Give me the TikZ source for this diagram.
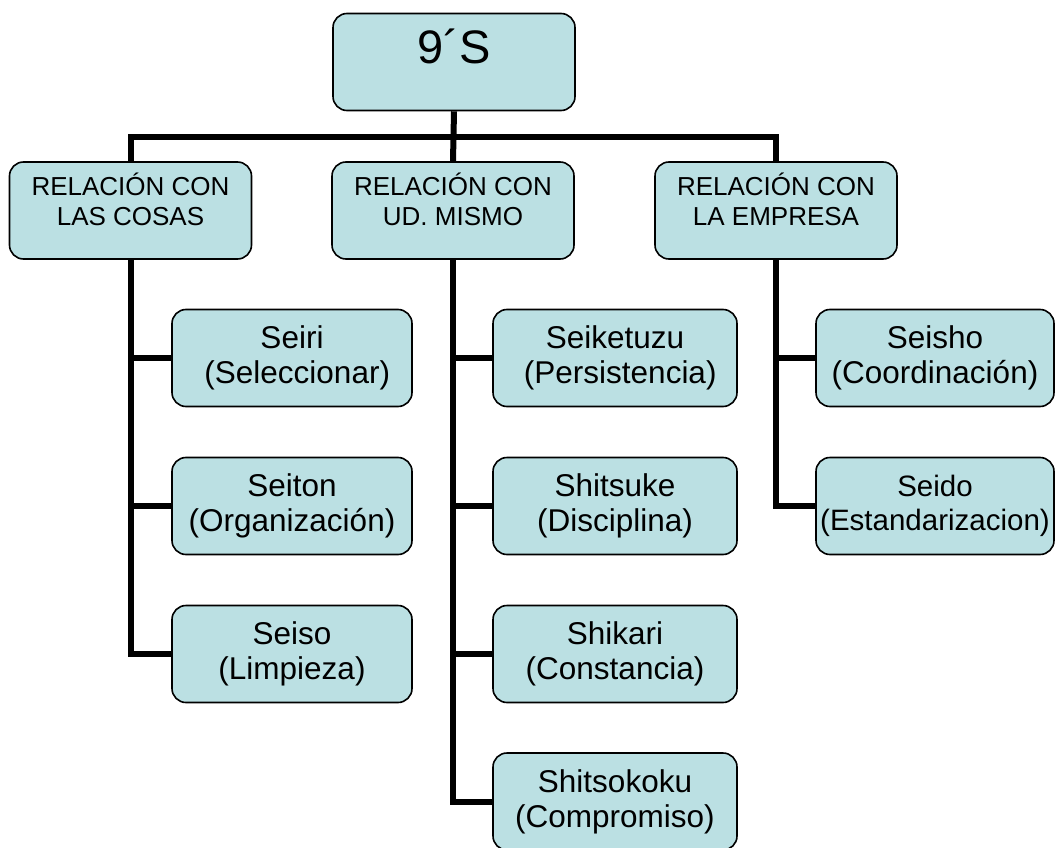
\documentclass[tikz,border=0pt]{standalone}
\usepackage{fontspec}
\setmainfont{Liberation Sans}
\usetikzlibrary{calc}
\definecolor{boxfill}{RGB}{187,224,227}
\tikzset{
  box/.style={draw=black, line width=1.6pt, fill=boxfill, rounded corners=14pt,
    minimum width=242pt, minimum height=97pt, inner sep=0pt, align=center,
    font=\fontsize{31.5}{35}\selectfont},
  hdrtxt/.style={align=center, inner sep=0pt, anchor=north, font=\fontsize{26}{30}\selectfont},
  conn/.style={line width=6pt},
}
\begin{document}
\begin{tikzpicture}[x=1pt,y=-1pt]
\useasboundingbox (0,0) rectangle (1055,848);
% top
\node[box] (top) at (454,62) {};
\node[font=\fontsize{47}{50}\selectfont, inner sep=0pt, anchor=base] (toptxt) at (454,64) {9´S};
% level 1
\node[box] (L) at (130.5,210.5) {};
\node[box] (M) at (453,210.5) {};
\node[box] (R) at (776,210.5) {};
\node[hdrtxt] (Lt) at (130.5,173) {RELACIÓN CON\\LAS COSAS};
\node[hdrtxt] (Mt) at (453,173) {RELACIÓN CON\\UD. MISMO};
\node[hdrtxt] (Rt) at (776,173) {RELACIÓN CON\\LA EMPRESA};
% level 2 left
\node[box, minimum width=240pt] (s1) at (292,358) {Seiri\\\hphantom{(}\kern-\fontdimen2\font\ (Seleccionar)};
\node[box, minimum width=240pt] (s2) at (292,506) {Seiton\\(Organización)};
\node[box, minimum width=240pt] (s3) at (292,654) {Seiso\\(Limpieza)};
% level 2 middle
\node[box, minimum width=244pt] (m1) at (615,358) {Seiketuzu\\\hphantom{(}\kern-\fontdimen2\font\ (Persistencia)};
\node[box, minimum width=244pt] (m2) at (615,506) {Shitsuke\\(Disciplina)};
\node[box, minimum width=244pt] (m3) at (615,654) {Shikari\\(Constancia)};
\node[box, minimum width=244pt] (m4) at (615,801.5) {Shitsokoku\\(Compromiso)};
% level 2 right
\node[box, minimum width=238pt] (r1) at (935,358) {Seisho\\(Coordinación)};
\node[box, minimum width=238pt, font=\fontsize{29.5}{34}\selectfont] (r2) at (935,506) {Seido\\(Estandarizacion)};
% connectors
\coordinate (bus) at (454,137);
\draw[conn] (top.south) -- (M.north);
\draw[conn] (L.north) -- (L.north |- bus) -- (R.north |- bus) -- (R.north);
\draw[conn] (L.south) |- (s3.west);
\draw[conn] (L.south |- s1.west) -- (s1.west);
\draw[conn] (L.south |- s2.west) -- (s2.west);
\draw[conn] (M.south) |- (m4.west);
\draw[conn] (M.south |- m1.west) -- (m1.west);
\draw[conn] (M.south |- m2.west) -- (m2.west);
\draw[conn] (M.south |- m3.west) -- (m3.west);
\draw[conn] (R.south) |- (r2.west);
\draw[conn] (R.south |- r1.west) -- (r1.west);
\end{tikzpicture}
\end{document}
